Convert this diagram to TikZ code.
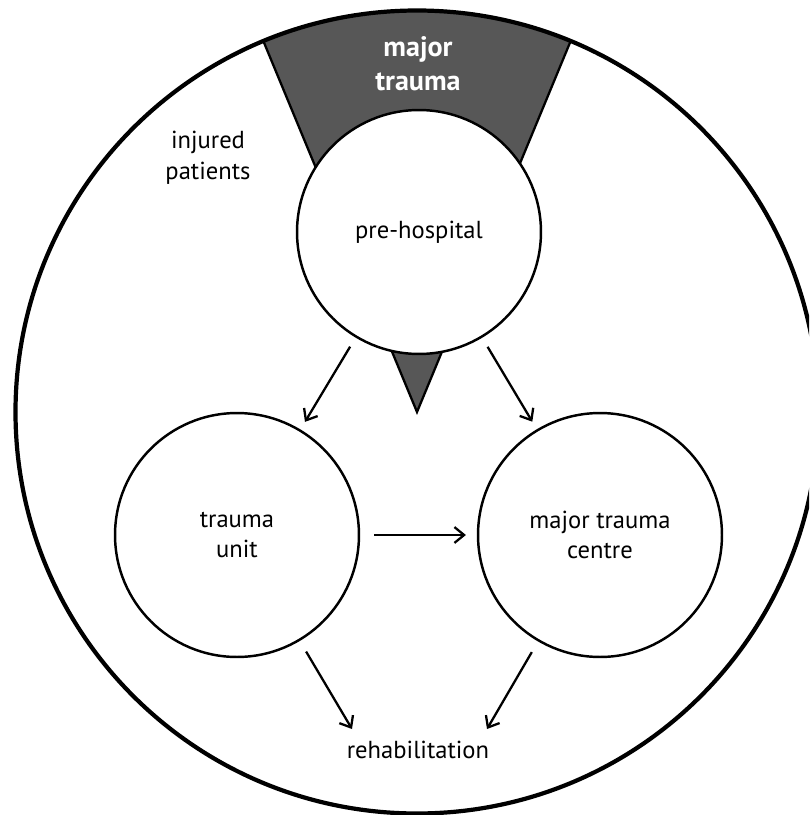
\documentclass[tikz,border=0pt]{standalone}
\usepackage{fontspec}
\setmainfont{PT Sans}
\usetikzlibrary{arrows.meta}
\definecolor{wedgegray}{HTML}{575757}
\tikzset{
  stage/.style={circle, draw, line width=1.4pt, fill=white, minimum size=4.88cm,
    inner sep=0pt, align=center, font=\fontsize{14}{17.5}\selectfont},
  plaintext/.style={align=center, inner sep=0pt, font=\fontsize{14}{17.5}\selectfont},
  flow/.style={-{Straight Barb[length=5.5pt,width=9pt]}, line width=1.3pt},
}

\begin{document}
\begin{tikzpicture}[x=0.02cm, y=-0.02cm]
        \useasboundingbox (0,0) rectangle (809,815);
        \clip (0,0) rectangle (809,815);
        \coordinate (O) at (417,412);
        \filldraw[fill=wedgegray, line width=1.3pt] (O) -- ++(247.5:401.5)
          arc[start angle=247.5, end angle=292.5, radius=401.5] -- cycle;
        \draw[line width=2.4pt] (O) circle (401.5);
        \node[plaintext, text=white, font=\fontsize{16}{19.3}\selectfont\bfseries] (major) at (418,64) {major\\trauma};
        \node[plaintext] (injured) at (208,158) {injured\\patients};
        \node[stage] (pre) at (419,232) {pre-hospital};
        \node[stage] (tu) at (237,535) {trauma\\unit};
        \node[stage] (mtc) at (600,535) {major trauma\\centre};
        \node[plaintext] (rehab) at (418,750) {rehabilitation};
        \coordinate (inl) at (352,729);
        \coordinate (inr) at (487,729);
        \draw[flow, shorten <=6pt, shorten >=5pt] (pre) -- (tu);
        \draw[flow, shorten <=6pt, shorten >=5pt] (pre) -- (mtc);
        \draw[flow, shorten <=8pt, shorten >=6.2pt] (tu) -- (mtc);
        \draw[flow, shorten <=7pt] (tu) -- (inl);
        \draw[flow, shorten <=7pt] (mtc) -- (inr);
      \end{tikzpicture}
\end{document}
